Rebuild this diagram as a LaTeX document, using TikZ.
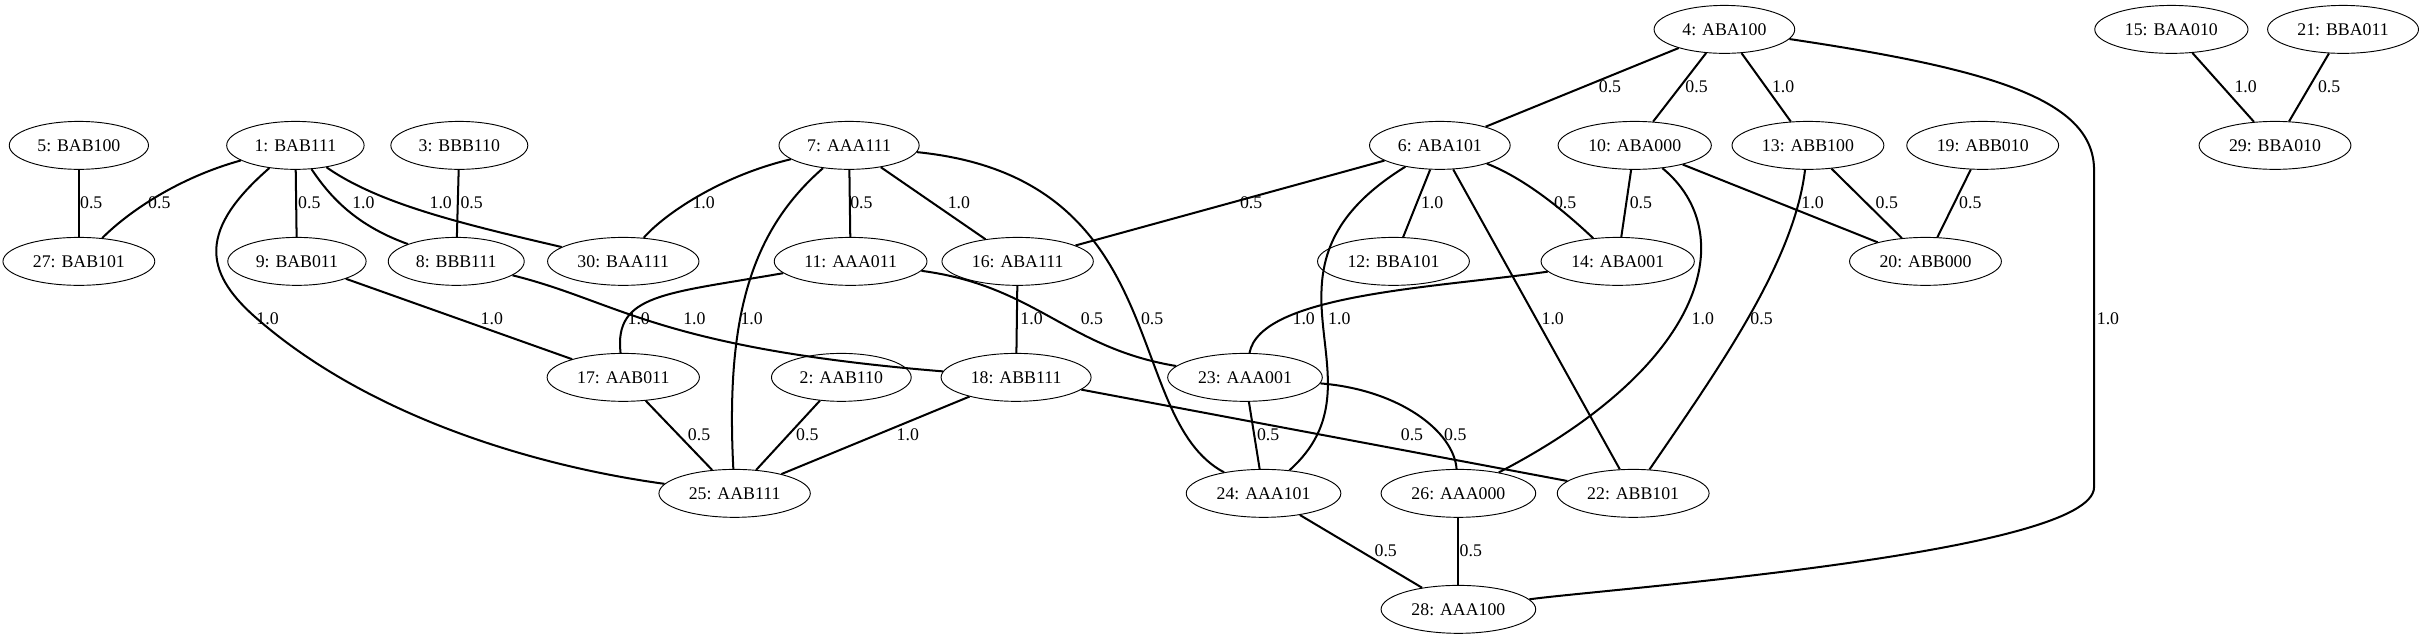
\documentclass[tikz,border=0pt]{standalone}
\usepackage{fontspec}
\setmainfont{Liberation Serif}
\usepackage{tikz}
\usetikzlibrary{shapes.geometric}

\begin{document}
\begin{tikzpicture}[x=1pt, y=-1pt,
    state/.style={draw, ellipse, line width=0.6pt, inner xsep=5pt,
      inner ysep=2pt, minimum height=31pt,
      font=\fontsize{11.5}{13}\selectfont},
    wt/.style={inner sep=0pt, font=\fontsize{11.5}{13}\selectfont},
    link/.style={line width=1.3pt}]
      \useasboundingbox (0,0) rectangle (1568,413);
      % States, row by row
      \node[state] (n4) at (1115,19) {4: ABA100};
      \node[state] (n15) at (1404,19) {15: BAA010};
      \node[state] (n21) at (1515,19) {21: BBA011};

      \node[state] (n5) at (51,94) {5: BAB100};
      \node[state] (n1) at (191,94) {1: BAB111};
      \node[state] (n3) at (297,94) {3: BBB110};
      \node[state] (n7) at (549,94) {7: AAA111};
      \node[state] (n6) at (931,94) {6: ABA101};
      \node[state] (n10) at (1057,94) {10: ABA000};
      \node[state] (n13) at (1169,94) {13: ABB100};
      \node[state] (n19) at (1282,94) {19: ABB010};
      \node[state] (n29) at (1471,94) {29: BBA010};

      \node[state] (n27) at (51,169) {27: BAB101};
      \node[state] (n9) at (192,169) {9: BAB011};
      \node[state] (n8) at (295,169) {8: BBB111};
      \node[state] (n30) at (403,169) {30: BAA111};
      \node[state] (n11) at (550,169) {11: AAA011};
      \node[state] (n16) at (658,169) {16: ABA111};
      \node[state] (n12) at (901,169) {12: BBA101};
      \node[state] (n14) at (1046,169) {14: ABA001};
      \node[state] (n20) at (1245,169) {20: ABB000};

      \node[state] (n17) at (403,244) {17: AAB011};
      \node[state] (n2) at (544,244) {2: AAB110};
      \node[state] (n18) at (657,244) {18: ABB111};
      \node[state] (n23) at (805,244) {23: AAA001};

      \node[state] (n25) at (475,319) {25: AAB111};
      \node[state] (n24) at (817,319) {24: AAA101};
      \node[state] (n26) at (943,319) {26: AAA000};
      \node[state] (n22) at (1056,319) {22: ABB101};

      \node[state] (n28) at (943,394) {28: AAA100};
      % Straight links
      \draw[link] (n5) -- (n27);
      \draw[link] (n1) -- (n9);
      \draw[link] (n3) -- (n8);
      \draw[link] (n7) -- (n11);
      \draw[link] (n7) -- (n16);
      \draw[link] (n9) -- (n17);
      \draw[link] (n16) -- (n18);
      \draw[link] (n6) -- (n16);
      \draw[link] (n6) -- (n12);
      \draw[link] (n6) -- (n22);
      \draw[link] (n4) -- (n6);
      \draw[link] (n4) -- (n10);
      \draw[link] (n4) -- (n13);
      \draw[link] (n10) -- (n14);
      \draw[link] (n10) -- (n20);
      \draw[link] (n13) -- (n20);
      \draw[link] (n19) -- (n20);
      \draw[link] (n15) -- (n29);
      \draw[link] (n21) -- (n29);
      \draw[link] (n17) -- (n25);
      \draw[link] (n2) -- (n25);
      \draw[link] (n18) -- (n25);
      \draw[link] (n18) -- (n22);
      \draw[link] (n23) -- (n24);
      \draw[link] (n24) -- (n28);
      \draw[link] (n26) -- (n28);
      % Curved links
      \draw[link] (n1) .. controls (115,115) and (83,137) .. (n27);
      \draw[link] (n1) .. controls (212,125) and (228,145) .. (n8);
      \draw[link] (n1) .. controls (245,132) and (300,145) .. (n30);
      \draw[link] (n1) .. controls (129,148) and (131,175) .. (165,205)
      .. controls (240,271) and (350,302) .. (n25);
      \draw[link] (n7) .. controls (465,114) and (429,139) .. (n30);
      \draw[link] (n7) .. controls (486,149) and (469,204) .. (n25);
      \draw[link] (n7) .. controls (760,115) and (725,270) .. (n24);
      \draw[link] (n8) .. controls (400,195) and (425,225) .. (n18);
      \draw[link] (n11) .. controls (430,190) and (397,190) .. (n17);
      \draw[link] (n11) .. controls (670,185) and (690,225) .. (n23);
      \draw[link] (n6) .. controls (800,175) and (900,245) .. (n24);
      \draw[link] (n6) .. controls (985,115) and (1010,135) .. (n14);
      \draw[link] (n14) .. controls (930,186) and (815,190) .. (n23);
      \draw[link] (n10) .. controls (1125,150) and (1105,235) .. (n26);
      \draw[link] (n13) .. controls (1160,170) and (1110,240) .. (n22);
      \draw[link] (n23) .. controls (905,252) and (940,279) .. (n26);
      \draw[link] (n4) .. controls (1290,45) and (1354,65) .. (1354,110)
      -- (1354,315) .. controls (1354,358) and (1035,381) .. (n28);
      % Weights
      \node[wt] (w4-6) at (1041,56) {0.5};
      \node[wt] (w4-10) at (1097,56) {0.5};
      \node[wt] (w4-13) at (1153,56) {1.0};
      \node[wt] (w15-29) at (1452,56) {1.0};
      \node[wt] (w21-29) at (1506,56) {0.5};

      \node[wt] (w5-27) at (59,131) {0.5};
      \node[wt] (w1-27) at (103,131) {0.5};
      \node[wt] (w1-9) at (200,131) {0.5};
      \node[wt] (w1-8) at (235,131) {1.0};
      \node[wt] (w1-30) at (285,131) {1.0};
      \node[wt] (w3-8) at (305,131) {0.5};
      \node[wt] (w7-30) at (455,131) {1.0};
      \node[wt] (w7-11) at (557,131) {0.5};
      \node[wt] (w7-16) at (620,131) {1.0};
      \node[wt] (w6-16) at (809,131) {0.5};
      \node[wt] (w6-12) at (926,131) {1.0};
      \node[wt] (w6-14) at (1012,131) {0.5};
      \node[wt] (w10-14) at (1061,131) {0.5};
      \node[wt] (w10-20) at (1172,131) {1.0};
      \node[wt] (w13-20) at (1220,131) {0.5};
      \node[wt] (w19-20) at (1274,131) {0.5};

      \node[wt] (w1-25) at (173,206) {1.0};
      \node[wt] (w9-17) at (318,206) {1.0};
      \node[wt] (w11-17) at (413,206) {1.0};
      \node[wt] (w8-18) at (449,206) {1.0};
      \node[wt] (w7-25) at (486,206) {1.0};
      \node[wt] (w16-18) at (667,206) {1.0};
      \node[wt] (w11-23) at (706,206) {0.5};
      \node[wt] (w7-24) at (745,206) {0.5};
      \node[wt] (w14-23) at (843,206) {1.0};
      \node[wt] (w6-24) at (866,206) {1.0};
      \node[wt] (w6-22) at (1004,206) {1.0};
      \node[wt] (w10-26) at (1101,206) {1.0};
      \node[wt] (w13-22) at (1139,206) {0.5};
      \node[wt] (w4-28) at (1363,206) {1.0};

      \node[wt] (w17-25) at (452,281) {0.5};
      \node[wt] (w2-25) at (522,281) {0.5};
      \node[wt] (w18-25) at (587,281) {1.0};
      \node[wt] (w23-24) at (820,281) {0.5};
      \node[wt] (w18-22) at (913,281) {0.5};
      \node[wt] (w23-26) at (941,281) {0.5};

      \node[wt] (w24-28) at (896,356) {0.5};
      \node[wt] (w26-28) at (951,356) {0.5};
\end{tikzpicture}
\end{document}
